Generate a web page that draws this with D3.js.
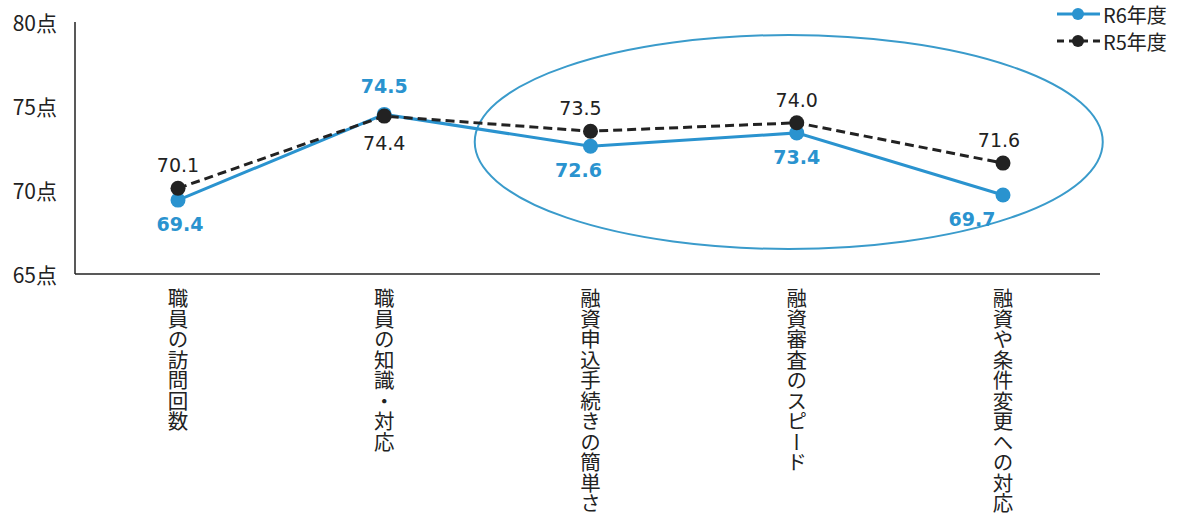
<!DOCTYPE html>
<html>
<head>
<meta charset="utf-8">
<script src="https://cdn.jsdelivr.net/npm/d3@7"></script>
<style>
  html, body { margin: 0; padding: 0; background: #fff; }
  svg { display: block; }
</style>
</head>
<body>
<svg id="chart" width="1184" height="513"></svg>
<script>
// Survey scores by item, two fiscal years
const categories = ["職員の訪問回数", "職員の知識・対応", "融資申込手続きの簡単さ", "融資審査のスピード", "融資や条件変更への対応"];
const r6Values = [69.4, 74.5, 72.6, 73.4, 69.7];
const r5Values = [70.1, 74.4, 73.5, 74.0, 71.6];
const yTicks = [65, 70, 75, 80];
const seriesNames = ["R6年度", "R5年度"];

const blue = "#2a93cf";
const dark = "#222";
const jpFont = "'Noto Sans CJK JP', 'Noto Sans', sans-serif";
const numFont = "'DejaVu Sans', Verdana, sans-serif";

// Horizontal nudges for value labels so they clear the lines
const r6LabelDx = [2, 0, -12, 0, -31];
const r5LabelDx = [0, 0, -10, 0, -4];

const svg = d3.select("#chart");

const x = d3.scalePoint().domain(categories).range([178, 1003]);
const y = d3.scaleLinear().domain([65, 80]).range([274, 22]);

// Axes: left vertical line and bottom baseline
svg.append("line").attr("x1", 75).attr("x2", 75).attr("y1", y(80)).attr("y2", y(65))
  .attr("stroke", "#222").attr("stroke-width", 1.5);
svg.append("line").attr("x1", 75).attr("x2", 1100).attr("y1", y(65)).attr("y2", y(65))
  .attr("stroke", "#222").attr("stroke-width", 1.5);

// Y tick labels
svg.selectAll("text.ytick").data(yTicks).join("text")
  .attr("class", "ytick")
  .attr("x", 57).attr("y", d => y(d))
  .attr("text-anchor", "end").attr("dominant-baseline", "central")
  .attr("font-family", jpFont).attr("font-size", 21).attr("fill", "#222")
  .text(d => d + "点");

// Vertical category labels
svg.selectAll("text.cat").data(categories).join("text")
  .attr("class", "cat")
  .attr("x", d => x(d)).attr("y", 288)
  .attr("writing-mode", "vertical-rl")
  .attr("font-family", jpFont).attr("font-size", 20.5).attr("fill", "#222")
  .text(d => d);

// Highlight ellipse around the lending items
svg.append("ellipse")
  .attr("cx", (x(categories[2]) + x(categories[4])) / 2 - 8)
  .attr("cy", 142).attr("rx", 314).attr("ry", 107)
  .attr("fill", "none").attr("stroke", "#3a9bcb").attr("stroke-width", 2);

const line = d3.line().x((d, i) => x(categories[i])).y(d => y(d));

// R6 series (solid blue)
svg.append("path").datum(r6Values).attr("d", line)
  .attr("fill", "none").attr("stroke", blue).attr("stroke-width", 3);
// R5 series (dashed dark)
svg.append("path").datum(r5Values).attr("d", line)
  .attr("fill", "none").attr("stroke", dark).attr("stroke-width", 3)
  .attr("stroke-dasharray", "9,5");

svg.selectAll("circle.r6").data(r6Values).join("circle")
  .attr("class", "r6")
  .attr("cx", (d, i) => x(categories[i])).attr("cy", d => y(d)).attr("r", 7.5)
  .attr("fill", blue);
svg.selectAll("circle.r5").data(r5Values).join("circle")
  .attr("class", "r5")
  .attr("cx", (d, i) => x(categories[i])).attr("cy", d => y(d)).attr("r", 7.5)
  .attr("fill", dark);

// Value labels: R5 above its point, R6 below (swapped on the second item)
svg.selectAll("text.l5").data(r5Values).join("text")
  .attr("class", "l5")
  .attr("x", (d, i) => x(categories[i]) + r5LabelDx[i])
  .attr("y", (d, i) => i === 1 ? y(d) + 27 : y(d) - 23)
  .attr("text-anchor", "middle").attr("dominant-baseline", "central")
  .attr("font-family", numFont).attr("font-size", 19).attr("fill", "#222")
  .text(d => d.toFixed(1));
svg.selectAll("text.l6").data(r6Values).join("text")
  .attr("class", "l6")
  .attr("x", (d, i) => x(categories[i]) + r6LabelDx[i])
  .attr("y", (d, i) => i === 1 ? y(d) - 28 : y(d) + 24)
  .attr("text-anchor", "middle").attr("dominant-baseline", "central")
  .attr("font-family", numFont).attr("font-size", 19).attr("font-weight", "bold").attr("fill", blue)
  .text(d => d.toFixed(1));

// Legend
const legend = svg.append("g");
const legendRows = [
  { name: seriesNames[0], color: blue, dash: null, yy: 14 },
  { name: seriesNames[1], color: dark, dash: "7,5", yy: 41 }
];
legendRows.forEach(r => {
  legend.append("line").attr("x1", 1057).attr("x2", 1100).attr("y1", r.yy).attr("y2", r.yy)
    .attr("stroke", r.color).attr("stroke-width", 3).attr("stroke-dasharray", r.dash);
  legend.append("circle").attr("cx", 1078).attr("cy", r.yy).attr("r", 6).attr("fill", r.color);
  legend.append("text").attr("x", 1103).attr("y", r.yy).attr("dominant-baseline", "central")
    .attr("font-family", jpFont).attr("font-size", 20).attr("fill", "#222").text(r.name);
});
</script>
</body>
</html>
